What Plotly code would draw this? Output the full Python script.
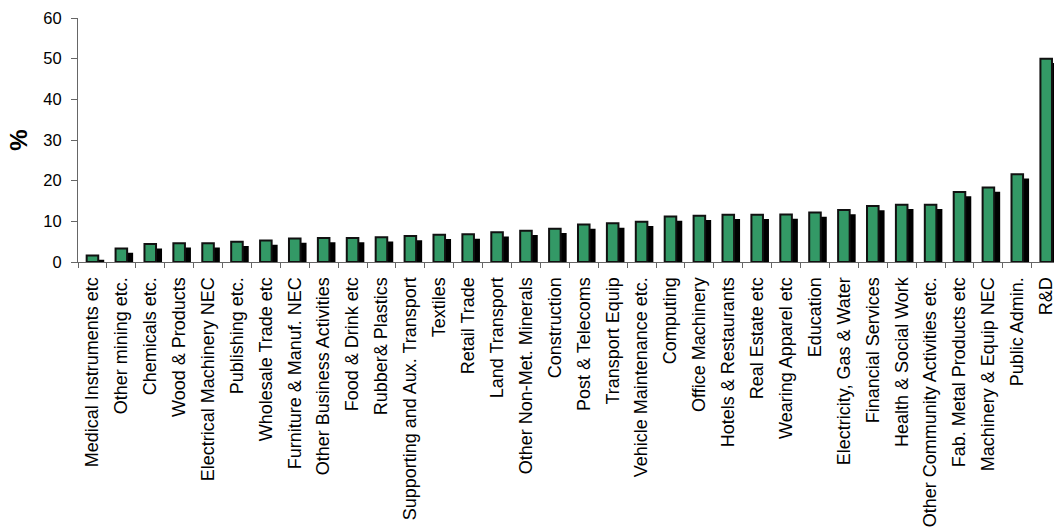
import plotly.graph_objects as go

categories = [
    "Medical Instruments etc", "Other mining etc.", "Chemicals etc.", "Wood & Products",
    "Electrical Machinery NEC", "Publishing etc.", "Wholesale Trade etc", "Furniture & Manuf. NEC",
    "Other Business Activities", "Food & Drink etc", "Rubber& Plastics",
    "Supporting and Aux. Transport", "Textiles", "Retail Trade", "Land Transport",
    "Other Non-Met. Minerals", "Construction", "Post & Telecoms", "Transport Equip",
    "Vehicle Maintenance etc.", "Computing", "Office Machinery", "Hotels & Restaurants",
    "Real Estate etc", "Wearing Apparel etc", "Education", "Electricity, Gas & Water",
    "Financial Services", "Health & Social Work", "Other Community Activities etc.",
    "Fab. Metal Products etc", "Machinery & Equip NEC", "Public Admin.", "R&D",
]
values = [
    1.6, 3.3, 4.4, 4.6, 4.6, 5.0, 5.3, 5.8, 5.9, 5.9, 6.1, 6.4, 6.7, 6.8, 7.3, 7.7, 8.2,
    9.2, 9.5, 9.9, 11.2, 11.4, 11.6, 11.6, 11.7, 12.2, 12.8, 13.8, 14.1, 14.1, 17.2, 18.3,
    21.6, 50.0,
]
y_ticks = [0, 10, 20, 30, 40, 50, 60]

bar_w = 0.40
shadow_dx = 0.173   # shadow shift (category units)
shadow_dy = 1.3     # shadow drop (value units)

fig = go.Figure()
# drop shadow
fig.add_trace(go.Bar(
    x=categories, y=values, base=[-shadow_dy] * len(values),
    width=bar_w, offset=-bar_w / 2 + shadow_dx,
    marker=dict(color="black", line=dict(color="black", width=2)),
    showlegend=False, hoverinfo="skip",
))
# main bars
fig.add_trace(go.Bar(
    x=categories, y=values,
    width=bar_w, offset=-bar_w / 2,
    marker=dict(color="#339966", line=dict(color="#111111", width=2)),
    showlegend=False,
))

fig.update_layout(
    width=1056, height=532,
    margin=dict(l=78, r=0, t=18, b=270),
    paper_bgcolor="white", plot_bgcolor="white",
    barmode="overlay",
    font=dict(family="Liberation Sans, Arial, sans-serif", color="black"),
)
fig.update_xaxes(
    type="category", range=[-0.5, 33.27],
    showline=True, linecolor="#666666", linewidth=1,
    ticks="outside", ticklen=5, tickcolor="#666666", tickson="boundaries",
    tickangle=-90, tickfont=dict(size=18, color="black"), ticklabelstandoff=7,
    showgrid=False, zeroline=False,
)
fig.update_yaxes(
    range=[0, 60], tickvals=y_ticks,
    showline=True, linecolor="#666666", linewidth=1,
    ticks="outside", ticklen=6, tickcolor="#666666",
    tickfont=dict(size=16.5, color="black"), ticklabelstandoff=6,
    showgrid=False, zeroline=False,
    title=dict(text="<b>%</b>", font=dict(size=24, color="black"), standoff=8),
)

fig.write_html("out.html")
